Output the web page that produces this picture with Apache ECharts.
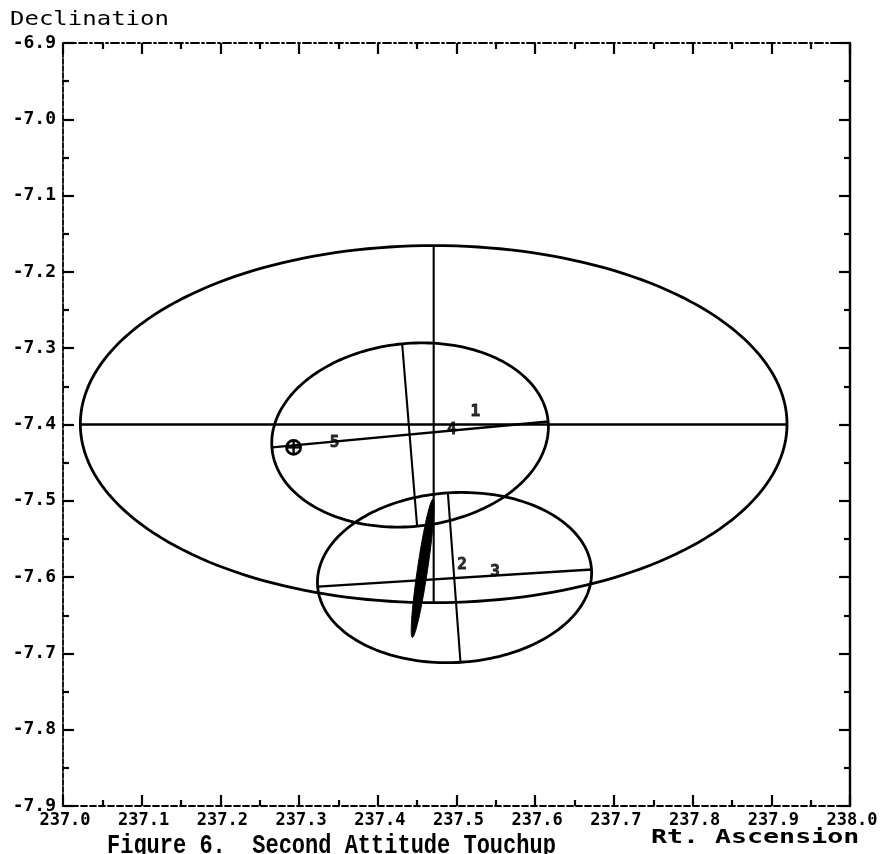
<!DOCTYPE html>
<html>
<head>
<meta charset="utf-8">
<script src="https://cdn.jsdelivr.net/npm/echarts@6/dist/echarts.min.js"></script>
<style>
  html, body { margin: 0; padding: 0; background: #fff; }
  #chart { width: 885px; height: 854px; }
</style>
</head>
<body>
<div id="chart"></div>
<script>
// Axis ranges (degrees)
const raMin = 237.0, raMax = 238.0;
const decMin = -7.9, decMax = -6.9;
const tickStep = 0.1;

// Error ellipses, given by the end points of their two conjugate axes (RA, Dec)
const ellipseMajorStartRA  = [237.022, 237.266, 237.324];
const ellipseMajorStartDec = [-7.400, -7.430, -7.6125];
const ellipseMajorEndRA    = [237.920, 237.617, 237.672];
const ellipseMajorEndDec   = [-7.400, -7.396, -7.590];
const ellipseMinorTopRA    = [237.471, 237.431, 237.489];
const ellipseMinorTopDec   = [-7.165, -7.295, -7.489];
const ellipseMinorBottomRA = [237.471, 237.450, 237.505];
const ellipseMinorBottomDec= [-7.633, -7.534, -7.711];

// Narrow filled attitude ellipse
const sliverMajorRA  = [237.470, 237.444];
const sliverMajorDec = [-7.498, -7.679];
const sliverMinorRA  = [237.4505, 237.4635];
const sliverMinorDec = [-7.5885, -7.5885];

// Target marker
const markerRA  = [237.293];
const markerDec = [-7.430];

// Numbered solution points
const pointNames = ['1', '2', '3', '4', '5'];
const pointRA    = [237.524, 237.507, 237.549, 237.494, 237.345];
const pointDec   = [-7.384, -7.5836, -7.593, -7.4066, -7.4236];

const monoBold = 'DejaVu Sans Mono';

const ellipseData = ellipseMajorStartRA.map((_, i) => [
  ellipseMajorStartRA[i], ellipseMajorStartDec[i],
  ellipseMajorEndRA[i], ellipseMajorEndDec[i],
  ellipseMinorTopRA[i], ellipseMinorTopDec[i],
  ellipseMinorBottomRA[i], ellipseMinorBottomDec[i]
]);
const sliverData = [[
  sliverMajorRA[0], sliverMajorDec[0], sliverMajorRA[1], sliverMajorDec[1],
  sliverMinorRA[0], sliverMinorDec[0], sliverMinorRA[1], sliverMinorDec[1]
]];

// Ellipse outline in pixel space from two conjugate semi-diameters
function ellipseGeometry(api) {
  const a = api.coord([api.value(0), api.value(1)]);
  const b = api.coord([api.value(2), api.value(3)]);
  const c = api.coord([api.value(4), api.value(5)]);
  const d = api.coord([api.value(6), api.value(7)]);
  const cx = (a[0] + b[0] + c[0] + d[0]) / 4;
  const cy = (a[1] + b[1] + c[1] + d[1]) / 4;
  const ux = (b[0] - a[0]) / 2, uy = (b[1] - a[1]) / 2;
  const vx = (c[0] - d[0]) / 2, vy = (c[1] - d[1]) / 2;
  const pts = [];
  const n = 200;
  for (let i = 0; i < n; i++) {
    const t = (i / n) * Math.PI * 2;
    pts.push([cx + ux * Math.cos(t) + vx * Math.sin(t), cy + uy * Math.cos(t) + vy * Math.sin(t)]);
  }
  return { a, b, c, d, pts };
}

function axisLine(style) {
  return { show: true, lineStyle: Object.assign({ color: '#000', width: 1.8 }, style) };
}
const tickCommon = { show: true, inside: true, length: 11, lineStyle: { color: '#000', width: 2.2 } };
const minorCommon = { show: true, splitNumber: 2, length: 6, lineStyle: { color: '#000', width: 2.2 } };

const chart = echarts.init(document.getElementById('chart'), null, { renderer: 'canvas' });

chart.setOption({
  backgroundColor: '#fff',
  animation: false,
  grid: { left: 63, right: 35, top: 43, bottom: 48 },
  xAxis: [
    {
      type: 'value', position: 'bottom', min: raMin, max: raMax, interval: tickStep,
      axisLine: axisLine({ type: [6, 3] }),
      axisTick: tickCommon, minorTick: minorCommon,
      splitLine: { show: false },
      axisLabel: {
        show: true, margin: 6, color: '#000', fontFamily: monoBold, fontWeight: 'bold', fontSize: 17,
        padding: [0, 0, 0, 4],
        formatter: v => v.toFixed(1)
      }
    },
    {
      type: 'value', position: 'top', min: raMin, max: raMax, interval: tickStep,
      axisLine: axisLine({ type: [8, 3, 2, 3] }),
      axisTick: tickCommon, minorTick: minorCommon,
      splitLine: { show: false }, axisLabel: { show: false }
    }
  ],
  yAxis: [
    {
      type: 'value', position: 'left', min: decMin, max: decMax, interval: tickStep,
      axisLine: axisLine({ type: [5, 2] }),
      axisTick: tickCommon, minorTick: minorCommon,
      splitLine: { show: false },
      axisLabel: {
        show: true, margin: 7, color: '#000', fontFamily: monoBold, fontWeight: 'bold', fontSize: 18,
        formatter: v => v.toFixed(1)
      }
    },
    {
      type: 'value', position: 'right', min: decMin, max: decMax, interval: tickStep,
      axisLine: axisLine({ width: 2.4 }),
      axisTick: tickCommon, minorTick: minorCommon,
      splitLine: { show: false }, axisLabel: { show: false }
    }
  ],
  graphic: [
    {
      type: 'text', x: 10, y: 10, scaleX: 1.2,
      style: { text: 'Declination', font: '20px "DejaVu Sans Mono"', fill: '#000', align: 'left', verticalAlign: 'top' }
    },
    {
      type: 'text', x: 651, y: 828, scaleX: 1.33,
      style: { text: 'Rt. Ascension', font: 'bold 20px "DejaVu Sans Mono"', fill: '#000', align: 'left', verticalAlign: 'top' }
    },
    {
      type: 'text', x: 107, y: 832, scaleY: 1.25,
      style: { text: 'Figure 6.  Second Attitude Touchup', font: 'bold 22px "Liberation Mono"', fill: '#000', align: 'left', verticalAlign: 'top' }
    }
  ],
  series: [
    {
      type: 'custom', name: 'ellipses', xAxisIndex: 0, yAxisIndex: 0,
      encode: { x: [0, 2, 4, 6], y: [1, 3, 5, 7] },
      data: ellipseData,
      renderItem: function (params, api) {
        const g = ellipseGeometry(api);
        return {
          type: 'group',
          children: [
            { type: 'polygon', shape: { points: g.pts }, style: { fill: 'none', stroke: '#000', lineWidth: 2.8 } },
            { type: 'line', shape: { x1: g.a[0], y1: g.a[1], x2: g.b[0], y2: g.b[1] }, style: { stroke: '#000', lineWidth: 2.4 } },
            { type: 'line', shape: { x1: g.c[0], y1: g.c[1], x2: g.d[0], y2: g.d[1] }, style: { stroke: '#000', lineWidth: 2.1 } }
          ]
        };
      }
    },
    {
      type: 'custom', name: 'sliver', xAxisIndex: 0, yAxisIndex: 0,
      encode: { x: [0, 2, 4, 6], y: [1, 3, 5, 7] },
      data: sliverData,
      renderItem: function (params, api) {
        const g = ellipseGeometry(api);
        return { type: 'polygon', shape: { points: g.pts }, style: { fill: '#000', stroke: '#000', lineWidth: 1 } };
      }
    },
    {
      type: 'custom', name: 'marker', xAxisIndex: 0, yAxisIndex: 0,
      encode: { x: 0, y: 1 },
      data: markerRA.map((v, i) => [v, markerDec[i]]),
      renderItem: function (params, api) {
        const p = api.coord([api.value(0), api.value(1)]);
        const r = 7;
        return {
          type: 'group',
          children: [
            { type: 'circle', shape: { cx: p[0], cy: p[1], r: r }, style: { fill: 'none', stroke: '#000', lineWidth: 2.8 } },
            { type: 'line', shape: { x1: p[0] - r, y1: p[1], x2: p[0] + r, y2: p[1] }, style: { stroke: '#000', lineWidth: 2.4 } },
            { type: 'line', shape: { x1: p[0], y1: p[1] - r, x2: p[0], y2: p[1] + r }, style: { stroke: '#000', lineWidth: 2.4 } }
          ]
        };
      }
    },
    {
      type: 'scatter', name: 'points', xAxisIndex: 0, yAxisIndex: 0,
      symbolSize: 0,
      data: pointNames.map((n, i) => ({ name: n, value: [pointRA[i], pointDec[i]] })),
      label: {
        show: true, position: 'inside', formatter: p => p.name,
        color: '#000', fontFamily: monoBold, fontWeight: 'bold', fontSize: 16,
        textBorderColor: '#000', textBorderWidth: 0.8
      }
    }
  ]
});
</script>
</body>
</html>
